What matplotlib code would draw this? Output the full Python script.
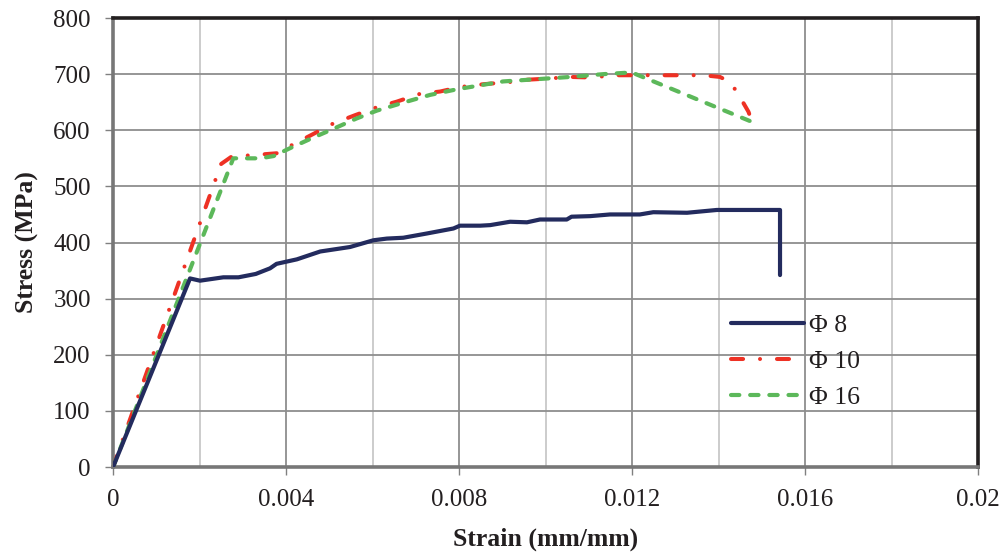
import matplotlib
matplotlib.use("Agg")
import matplotlib.pyplot as plt
import numpy as np

# stress-strain curves for three bar diameters
strain_8 = [0.0, 0.00178, 0.00201, 0.00255, 0.0029, 0.0033, 0.00363, 0.00378, 0.00425,
            0.00479, 0.00548, 0.00602, 0.00633, 0.00671, 0.00725, 0.00787, 0.00802,
            0.00849, 0.00872, 0.00918, 0.00957, 0.00987, 0.01049, 0.0106, 0.01103,
            0.01149, 0.01218, 0.01249, 0.01327, 0.01396, 0.01542, 0.01542]
stress_8 = [0, 336, 332, 338, 338, 344, 354, 362, 370,
            384, 392, 404, 407, 408.5, 416, 425, 430,
            430, 431, 437, 436, 441, 441, 446, 447,
            450, 450, 454, 453, 458, 458, 342]

strain_10 = [0.0, 0.00228, 0.0025, 0.00274, 0.00328, 0.00378, 0.00417, 0.00467, 0.00509,
             0.0056, 0.0061, 0.00656, 0.0071, 0.00756, 0.00802, 0.00856, 0.00918,
             0.00957, 0.01003, 0.01057, 0.01103, 0.01161, 0.01203, 0.01265, 0.01327,
             0.01365, 0.01403, 0.01427, 0.01448, 0.01469, 0.01477]
stress_10 = [0, 493, 540, 553, 556, 559, 575, 595, 612,
             627, 641, 651, 665, 669, 677, 682, 686,
             690, 692, 695, 694, 698, 698, 698, 698,
             698, 695, 686, 661, 633, 616]

strain_16 = [0.0, 0.00278, 0.0034, 0.00371, 0.00409, 0.00463, 0.00502, 0.00563, 0.0061,
             0.00679, 0.00733, 0.00795, 0.00856, 0.00902, 0.0098, 0.01057, 0.01134,
             0.01199, 0.01477]
stress_16 = [0, 550, 550, 554, 568, 587, 600, 621, 635,
             651, 663, 673, 681, 687, 691, 695, 700,
             703, 615]

labels = ["\u03a6 8", "\u03a6 10", "\u03a6 16"]
x_ticks = [0, 0.004, 0.008, 0.012, 0.016, 0.02]
x_ticklabels = ['0', '0.004', '0.008', '0.012', '0.016', '0.02']
x_minor = [0.002, 0.006, 0.010, 0.014, 0.018]
y_ticks = [0, 100, 200, 300, 400, 500, 600, 700, 800]

plt.rcParams['font.family'] = ['Liberation Serif', 'DejaVu Serif']

fig = plt.figure(figsize=(10.03, 5.54), dpi=100)
ax = fig.add_axes([0.1127, 0.157, 0.8625, 0.8105])

ax.plot(strain_8, stress_8, color='#232b5e', lw=3.0, solid_capstyle='round',
        solid_joinstyle='round', label=labels[0], zorder=4)
ax.plot(strain_10, stress_10, color='#ee3124', lw=2.9, dash_capstyle='round',
        dashes=(3.0, 4.2, 0.01, 4.2), label=labels[1], zorder=3)
ax.plot(strain_16, stress_16, color='#5cb85a', lw=3.0, dash_capstyle='round',
        dashes=(2.0, 2.6), label=labels[2], zorder=3)

ax.set_xlim(0, 0.02)
ax.set_ylim(0, 800)
ax.set_xticks(x_ticks)
ax.set_xticklabels(x_ticklabels)
ax.set_xticks(x_minor, minor=True)
ax.set_yticks(y_ticks)

ax.grid(True, which='major', axis='both', color='#8e8e8e', lw=1.3, zorder=0)
ax.grid(True, which='minor', axis='x', color='#c8c8c8', lw=1.3, zorder=0)
ax.set_axisbelow(True)

ax.tick_params(axis='both', which='major', direction='out', length=6, width=1,
               color='#808080', labelsize=18, labelcolor='#231f20')
ax.tick_params(axis='x', which='major', pad=10)
ax.tick_params(axis='y', which='major', pad=10)
ax.tick_params(axis='x', which='minor', length=0)

for side in ['top', 'right']:
    ax.spines[side].set_color('#231f20')
    ax.spines[side].set_linewidth(2.6)
for side in ['left', 'bottom']:
    ax.spines[side].set_color('#777777')
    ax.spines[side].set_linewidth(2.6)

ax.set_xlabel('Strain (mm/mm)', fontsize=18.5, fontweight='bold', color='#231f20', labelpad=12)
ax.set_ylabel('Stress (MPa)', fontsize=18.5, fontweight='bold', color='#231f20', labelpad=10)

leg = ax.legend(loc='upper left', bbox_to_anchor=(0.702, 0.363), frameon=False,
                fontsize=18.5, handlelength=2.85, handletextpad=0.2, labelspacing=0.5,
                borderaxespad=0)
for t in leg.get_texts():
    t.set_color('#231f20')

fig.savefig('out.png', dpi=100)
